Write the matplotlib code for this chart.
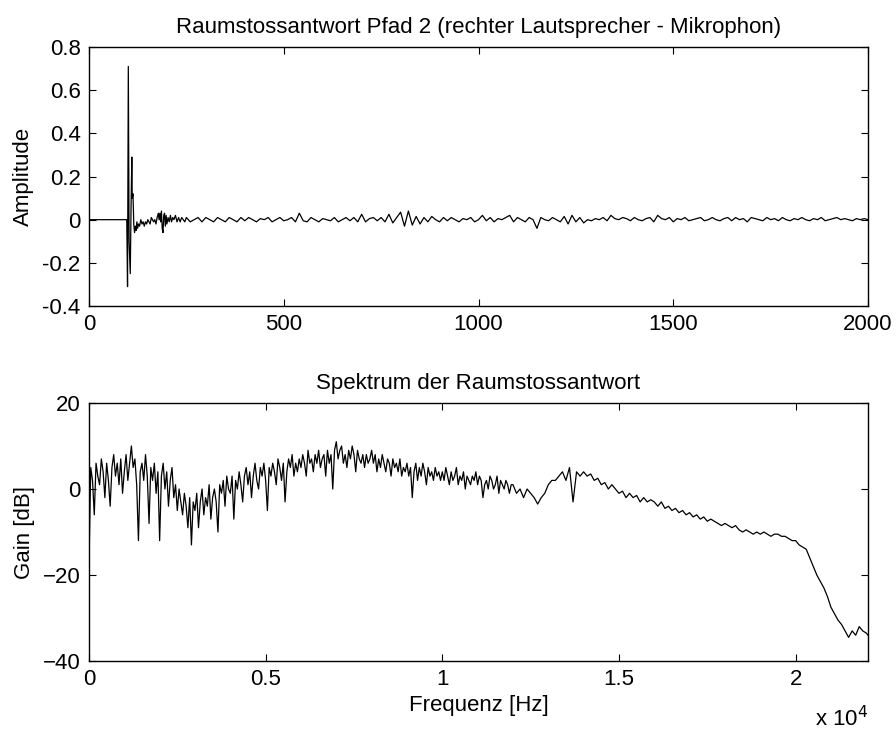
import numpy as np
import matplotlib
matplotlib.use('Agg')
import matplotlib.pyplot as plt

plt.rcParams['font.family'] = ['Liberation Sans', 'DejaVu Sans']
plt.rcParams['font.size'] = 16

# Impulse response: sample index / amplitude
head_samples = [0, 97, 99, 101, 103, 106, 108, 110, 111, 113, 115, 117, 119, 121, 123, 125,
                127, 130, 133, 136, 139, 142, 145, 148, 151, 154, 157, 160, 163, 166, 169,
                172, 175, 178, 180, 182, 184, 186, 188, 190, 192, 194, 196, 198, 200, 203,
                206, 209, 212, 215, 218, 222, 226, 230, 234, 238, 242, 246]
head_amp = [0.0, 0.0, -0.31, 0.71, -0.10, -0.25, 0.05, 0.29, 0.10, 0.12, -0.02, -0.06, -0.03,
            -0.05, -0.01, -0.04, -0.02, -0.03, 0.0, -0.02, -0.01, -0.03, -0.01, -0.02, 0.0,
            -0.01, -0.02, 0.01, 0.0, -0.01, 0.0, -0.02, 0.01, 0.03, 0.0, 0.03, -0.01, 0.04,
            -0.04, -0.06, 0.02, 0.03, -0.03, 0.02, -0.02, 0.01, -0.01, 0.02, -0.01, 0.01, 0.0,
            0.02, -0.01, 0.01, -0.01, 0.01, 0.0, -0.01]
tail_start, tail_step = 250, 10
tail_amp = [0.01, -0.01, 0.0, 0.01, -0.01, 0.01, 0.0, -0.01, 0.01, 0.0,
            -0.01, 0.01, 0.0, -0.01, 0.01, -0.005, 0.01, 0.0, -0.01, 0.005,
            0.0, 0.01, -0.01, 0.0, 0.01, -0.005, 0.0, 0.01, -0.01, 0.03,
            -0.005, -0.01, 0.01, 0.0, -0.01, 0.005, 0.0, -0.005, 0.01, -0.01,
            0.0, 0.01, -0.005, 0.01, -0.01, 0.025, -0.01, 0.005, 0.01, -0.005,
            0.01, -0.01, 0.025, -0.015, 0.01, 0.035, -0.03, 0.04, -0.025, 0.015,
            -0.02, 0.01, -0.01, 0.015, 0.0, -0.01, 0.01, -0.005, 0.01, 0.0,
            -0.01, 0.005, 0.0, 0.01, -0.01, 0.0, 0.02, -0.005, 0.01, -0.01,
            0.005, 0.0, 0.01, 0.02, -0.01, 0.01, 0.0, -0.01, 0.01, 0.0,
            -0.04, 0.01, 0.0, -0.005, 0.01, 0.0, -0.01, 0.015, -0.02, 0.02,
            -0.01, 0.01, -0.015, 0.0, -0.005, 0.005, 0.0, 0.01, -0.005, 0.02,
            0.005, 0.0, 0.01, 0.005, -0.005, 0.01, 0.0, -0.005, 0.005, 0.01,
            -0.01, 0.02, 0.005, 0.0, 0.01, -0.01, 0.005, 0.0, 0.01, -0.005,
            0.0, 0.005, 0.01, -0.005, 0.0, 0.01, 0.0, -0.005, 0.005, 0.01,
            -0.005, 0.01, 0.0, 0.005, -0.01, 0.01, 0.005, 0.0, -0.005, 0.01,
            0.0, 0.005, -0.005, 0.01, 0.0, -0.005, 0.005, 0.0, 0.01, 0.0,
            -0.005, 0.005, 0.0, 0.01, -0.005, 0.0, 0.005, 0.01, 0.0, 0.005,
            0.0, -0.005, 0.005, 0.0, 0.005, 0.0]

# Spectrum, low band: gain in dB every 50 Hz from 0 to 11950 Hz
low_step = 50
gain_low = [-18, 5, 2, -6, 6, 3, 1, 7, 4, -2, 6, 2, -4, 5, 8, 3, 6, 1, 7, -1,
            4, 8, 2, 6, 10, 5, 7, 1, -12, 4, 6, 2, 8, 3, -8, 5, 2, 6, -1, 4,
            -12, 3, 6, 0, 4, -4, 2, 5, -2, 1, -5, 0, -3, -6, -1, -4, -9, -2, -13, -3,
            -5, -1, -9, -3, 0, -6, -2, -4, 1, -7, -2, 0, -3, -10, 1, -1, 2, -4, 3, 0,
            -1, 3, -7, 2, 0, 4, 1, -3, 3, 5, 1, 4, -2, 3, 6, 2, 0, 5, 3, 6,
            2, -5, 5, 3, 6, 4, 1, 7, 5, 2, 6, -3, 4, 7, 5, 8, 3, 6, 4, 7,
            5, 8, 6, 3, 9, 6, 7, 4, 8, 6, 9, 5, 7, 8, 3, 9, 6, 8, 0, 9,
            11, 7, 9, 10, 6, 8, 5, 9, 7, 10, 8, 4, 9, 7, 6, 8, 5, 8, 6, 7,
            9, 6, 8, 4, 7, 5, 8, 6, 4, 7, 6, 3, 7, 5, 6, 4, 7, 3, 5, 4,
            6, 3, 5, -2, 4, 6, 2, 5, 3, 6, 4, 1, 5, 3, 4, 2, 5, 3, 4, 2,
            4, 2, 5, 3, 1, 4, 2, 3, 5, 1, 3, 2, 4, 0, 3, 2, 1, 3, 2, 4,
            1, 3, 2, -2, 1, 2, 0, 3, 2, 0, 1, 3, -1, 2, 1, 0, 2, 1, -1, 1]

# Spectrum, high band: gain in dB every 100 Hz from 12000 to 22000 Hz, plus 22050 Hz
high_start, high_step = 12000, 100
gain_high = [1, -1, 0, -2, 0, -1, -2, -3.5, -2, -1,
             1, 2, 2, 3, 4, 2, 5, -3, 4, 3,
             4, 3, 3.5, 2, 2.5, 1, 1.5, 0, 1, 0,
             -1, -0.5, -2, -1, -2, -1.5, -3, -2, -3, -2.5,
             -3, -4, -3, -4.5, -4, -5, -4.5, -5.5, -5, -6,
             -5.5, -6.5, -6, -7, -6.5, -7.5, -7, -7.5, -8, -8.5,
             -8, -8.5, -9, -8.5, -9.5, -10, -9.5, -10, -10.5, -10,
             -10.5, -10, -10.5, -11, -10.5, -10.5, -11, -11, -11.5, -12,
             -12, -13, -13.5, -14, -16, -18, -20, -21.5, -23, -25,
             -27.5, -29, -30.5, -31.5, -33, -34.5, -33, -34, -32, -33,
             -33.5]
gain_end = -34

samples = head_samples + list(range(tail_start, tail_start + tail_step * len(tail_amp), tail_step))
amp = head_amp + tail_amp
freqs = (list(range(0, low_step * len(gain_low), low_step))
         + list(range(high_start, high_start + high_step * len(gain_high), high_step)) + [22050])
gains = gain_low + gain_high + [gain_end]

fig = plt.figure(figsize=(8.96, 7.33), dpi=100)
ax1 = fig.add_axes([0.0993, 0.5825, 0.8695, 0.3534])
ax2 = fig.add_axes([0.0993, 0.0982, 0.8695, 0.3520])

ax1.plot(samples, amp, color='black', lw=0.9)
ax1.set_xlim(0, 2000)
ax1.set_ylim(-0.4, 0.8)
ax1.set_xticks([0, 500, 1000, 1500, 2000])
ax1.set_yticks([-0.4, -0.2, 0, 0.2, 0.4, 0.6, 0.8])
ax1.set_yticklabels(['-0.4', '-0.2', '0', '0.2', '0.4', '0.6', '0.8'])
ax1.set_ylabel('Amplitude', labelpad=6)
ax1.set_title('Raumstossantwort Pfad 2 (rechter Lautsprecher - Mikrophon)', fontsize=16, pad=10)

ax2.plot(freqs, gains, color='black', lw=0.9)
ax2.set_xlim(0, 22050)
ax2.set_ylim(-40, 20)
ax2.set_xticks([0, 5000, 10000, 15000, 20000])
ax2.set_xticklabels(['0', '0.5', '1', '1.5', '2'])
ax2.set_yticks([-40, -20, 0, 20])
ax2.set_xlabel('Frequenz [Hz]', labelpad=3)
ax2.set_ylabel('Gain [dB]', labelpad=6)
ax2.set_title('Spektrum der Raumstossantwort', fontsize=16, pad=10)
ax2.text(1.0, -0.222, r'x 10$^4$', transform=ax2.transAxes, ha='right', va='center', fontsize=16)

for ax in (ax1, ax2):
    ax.tick_params(direction='in', top=True, right=True, length=5, width=0.8, labelsize=16, pad=6)
    for s in ax.spines.values():
        s.set_linewidth(1.0)

fig.savefig('out.png', dpi=100)
